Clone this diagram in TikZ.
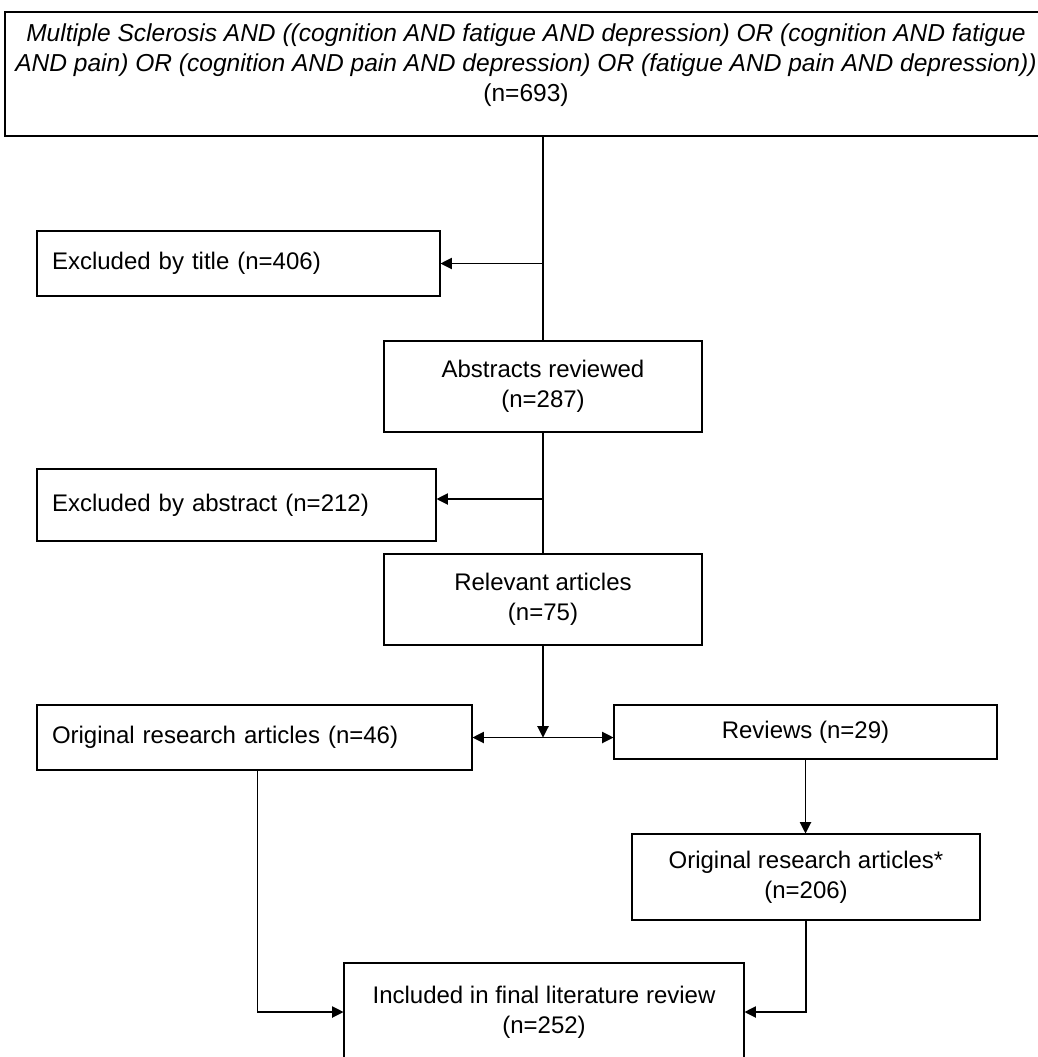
\documentclass[tikz,border=0pt]{standalone}
\usepackage{fontspec}
\setmainfont{Liberation Sans}
\usepackage{tikz}
\usetikzlibrary{arrows.meta}

\begin{document}
\begin{tikzpicture}[
        x = 0.75pt, y = -0.75pt,
        every node/.style = {font = \fontsize{18pt}{22.5pt}\selectfont},
        line/.style = {draw = black, line width = 0.8pt},
        arr/.style = {line, -{Triangle[length = 8.5pt, width = 8.5pt]}},
        arrboth/.style = {line, {Triangle[length = 8.5pt, width = 8.5pt]}-{Triangle[length = 8.5pt, width = 8.5pt]}},
    ]
    \tikzstyle{box} = [draw = black, line width = 0.8pt, align = center, inner sep = 0pt];
    \tikzstyle{sidebox} = [box, align = left, inner xsep = 11.25pt];
    \useasboundingbox (0,0) rectangle (1038,1057);
    \clip (0,0) rectangle (1038,1057);
    \node [box, minimum width = 781.5pt, minimum height = 93pt, text depth = 17.5pt,
        font = \fontsize{18.4pt}{22.5pt}\selectfont\itshape] (query) at (526,74)
        {Multiple Sclerosis AND ((cognition AND fatigue AND depression) OR (cognition AND fatigue\\
         AND pain) OR (cognition AND pain AND depression) OR (fatigue AND pain AND depression))\\
         \upshape (n=693)};
    \node [sidebox, text width = 279.75pt, minimum height = 48.75pt] (extitle) at (238.5,263.5) {Excluded by title (n=406)};
    \node [box, minimum width = 238.5pt, minimum height = 68.25pt] (abstracts) at (543,386.5) {Abstracts reviewed\\(n=287)};
    \node [sidebox, text width = 276.75pt, minimum height = 54pt] (exabstract) at (236.5,505) {Excluded by abstract (n=212)};
    \node [box, minimum width = 238.5pt, minimum height = 68.25pt] (relevant) at (543,599.5) {Relevant articles\\(n=75)};
    \node [sidebox, text width = 303.75pt, minimum height = 48.75pt] (original) at (254.5,737.5) {Original research articles (n=46)};
    \node [box, minimum width = 287.25pt, minimum height = 40.5pt] (reviews) at (805.5,732) {Reviews (n=29)};
    \node [box, minimum width = 261pt, minimum height = 64.5pt] (fromreviews) at (806,877) {Original research articles*\\(n=206)};
    \node [box, minimum width = 300pt, minimum height = 73.5pt] (final) at (544,1012) {Included in final literature review\\(n=252)};

    % branch points on the main line
    \coordinate (btitle) at (abstracts.north |- extitle.east);
    \coordinate (babstract) at ([yshift = 4.5pt]abstracts.south |- exabstract.east);
    \coordinate (split) at (relevant.south |- original.east);

    \draw [line] (query.south -| abstracts.north) -- (abstracts.north);
    \draw [arr] (btitle) -- (extitle.east);
    \draw [line] (abstracts.south) -- (relevant.north);
    \draw [arr] (babstract) -- (babstract -| exabstract.east);
    \draw [arr] (relevant.south) -- (split);
    \draw [arrboth] (original.east) -- (original.east -| reviews.west);
    \draw [arr] (reviews.south) -- (reviews.south |- fromreviews.north);
    \draw [arr] ([xshift = 1.9pt]original.south) |- (final.west);
    \draw [arr] (fromreviews.south) |- (final.east);
\end{tikzpicture}
\end{document}
